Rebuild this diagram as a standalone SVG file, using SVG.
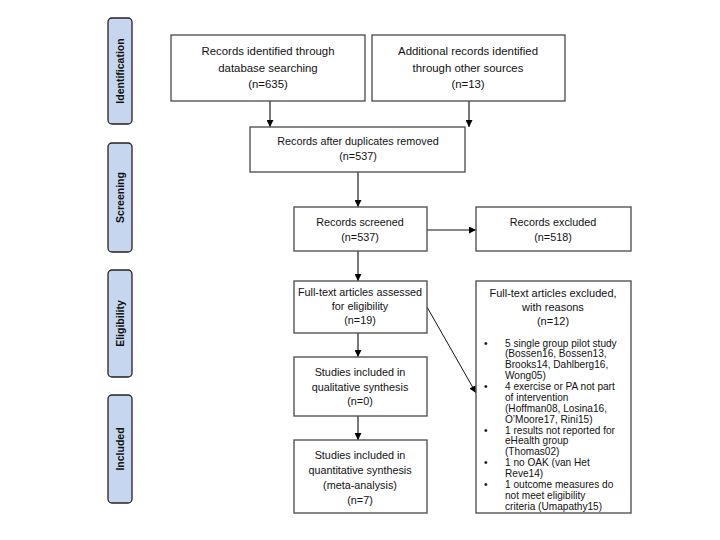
<svg xmlns="http://www.w3.org/2000/svg" width="720" height="540" viewBox="0 0 720 540">
<defs>
<marker id="ah" viewBox="0 0 10 10" refX="10" refY="5" markerWidth="7" markerHeight="7" markerUnits="userSpaceOnUse" orient="auto"><path d="M0,0 L10,5 L0,10 z" fill="#000"/></marker>
<style>
.phase{fill:#c6d6ee;stroke:#222;stroke-width:1.3}
.pt{font-family:"Liberation Sans",Arial,sans-serif;font-size:10.5px;font-weight:bold;fill:#111;text-anchor:middle}
.box{fill:#fff;stroke:#555;stroke-width:1.4}
.t{font-family:"Liberation Sans",Arial,sans-serif;font-size:10.8px;fill:#111;text-anchor:middle}
.tl{font-family:"Liberation Sans",Arial,sans-serif;font-size:11.4px;fill:#111;text-anchor:middle}
.th{font-family:"Liberation Sans",Arial,sans-serif;font-size:11px;fill:#111;text-anchor:middle}
.b{font-family:"Liberation Sans",Arial,sans-serif;font-size:10.1px;fill:#111}
.gl{stroke:#555;stroke-width:1.6;fill:none}
.bl{stroke:#111;stroke-width:1;fill:none}
</style>
</defs>
<rect width="720" height="540" fill="#fff"/>
<g id="phase-identification"><rect class="phase" x="108" y="18" width="24" height="106" rx="4"/><text class="pt" transform="translate(124,71) rotate(-90)">Identification</text></g>
<g id="phase-screening"><rect class="phase" x="108" y="143" width="24" height="109" rx="4"/><text class="pt" transform="translate(124,197.5) rotate(-90)">Screening</text></g>
<g id="phase-eligibility"><rect class="phase" x="108" y="270" width="24" height="107" rx="4"/><text class="pt" transform="translate(124,323.5) rotate(-90)">Eligibility</text></g>
<g id="phase-included"><rect class="phase" x="108" y="395" width="24" height="108" rx="4"/><text class="pt" transform="translate(124,449) rotate(-90)">Included</text></g>

<g id="connectors">
<line class="gl" x1="270" y1="101" x2="270" y2="127" marker-end="url(#ah)"/>
<line class="gl" x1="469" y1="101" x2="469" y2="127" marker-end="url(#ah)"/>
<line class="gl" x1="358" y1="172" x2="358" y2="207" marker-end="url(#ah)"/>
<line class="bl" x1="427" y1="230" x2="476" y2="230" marker-end="url(#ah)"/>
<line class="gl" x1="358" y1="251" x2="358" y2="281" marker-end="url(#ah)"/>
<line class="bl" x1="427" y1="307" x2="476" y2="393" marker-end="url(#ah)"/>
<line class="gl" x1="358" y1="333" x2="358" y2="357" marker-end="url(#ah)"/>
<line class="gl" x1="358" y1="416" x2="358" y2="440" marker-end="url(#ah)"/>
</g>

<g id="n-db"><rect class="box" x="171" y="35" width="194" height="66"/><text class="tl" x="268" y="55">Records identified through</text><text class="tl" x="268" y="71.5">database searching</text><text class="tl" x="268" y="88">(n=635)</text></g>
<g id="n-other"><rect class="box" x="372" y="35" width="193" height="66"/><text class="tl" x="468" y="55">Additional records identified</text><text class="tl" x="468" y="71.5">through other sources</text><text class="tl" x="468" y="88">(n=13)</text></g>
<g id="n-dup"><rect class="box" x="250" y="127" width="215" height="45"/><text class="t" x="358" y="145">Records after duplicates removed</text><text class="t" x="358" y="160">(n=537)</text></g>
<g id="n-screened"><rect class="box" x="294" y="207" width="133" height="44"/><text class="t" x="360" y="226">Records screened</text><text class="t" x="360" y="241">(n=537)</text></g>
<g id="n-excluded"><rect class="box" x="476" y="207" width="155" height="44"/><text class="t" x="553" y="226">Records excluded</text><text class="t" x="553" y="241">(n=518)</text></g>
<g id="n-fulltext"><rect class="box" x="294" y="281" width="133" height="52"/><text class="t" x="360" y="296">Full-text articles assessed</text><text class="t" x="360" y="310">for eligibility</text><text class="t" x="360" y="324">(n=19)</text></g>
<g id="n-ftexcl"><rect class="box" x="476" y="281" width="155" height="232"/>
<text class="th" x="553" y="297">Full-text articles excluded,</text><text class="th" x="553" y="311">with reasons</text><text class="th" x="553" y="325">(n=12)</text>
<text class="b" x="484" y="346.5">•</text><text class="b" x="505" y="346.5">5 single group pilot study</text>
<text class="b" x="505" y="357.4">(Bossen16, Bossen13,</text>
<text class="b" x="505" y="368.2">Brooks14, Dahlberg16,</text>
<text class="b" x="505" y="379.1">Wong05)</text>
<text class="b" x="484" y="390">•</text><text class="b" x="505" y="390">4 exercise or PA not part</text>
<text class="b" x="505" y="400.9">of intervention</text>
<text class="b" x="505" y="411.7">(Hoffman08, Losina16,</text>
<text class="b" x="505" y="422.6">O’Moore17, Rini15)</text>
<text class="b" x="484" y="433.5">•</text><text class="b" x="505" y="433.5">1 results not reported for</text>
<text class="b" x="505" y="444.4">eHealth group</text>
<text class="b" x="505" y="455.2">(Thomas02)</text>
<text class="b" x="484" y="466.1">•</text><text class="b" x="505" y="466.1">1 no OAK (van Het</text>
<text class="b" x="505" y="477">Reve14)</text>
<text class="b" x="484" y="487.9">•</text><text class="b" x="505" y="487.9">1 outcome measures do</text>
<text class="b" x="505" y="498.7">not meet eligibility</text>
<text class="b" x="505" y="509.6">criteria (Umapathy15)</text>
</g>
<g id="n-qual"><rect class="box" x="294" y="357" width="133" height="59"/><text class="t" x="360" y="376">Studies included in</text><text class="t" x="360" y="391">qualitative synthesis</text><text class="t" x="360" y="405">(n=0)</text></g>
<g id="n-quant"><rect class="box" x="294" y="440" width="133" height="73"/><text class="t" x="360" y="459">Studies included in</text><text class="t" x="360" y="474">quantitative synthesis</text><text class="t" x="360" y="489">(meta-analysis)</text><text class="t" x="360" y="504">(n=7)</text></g>
</svg>
